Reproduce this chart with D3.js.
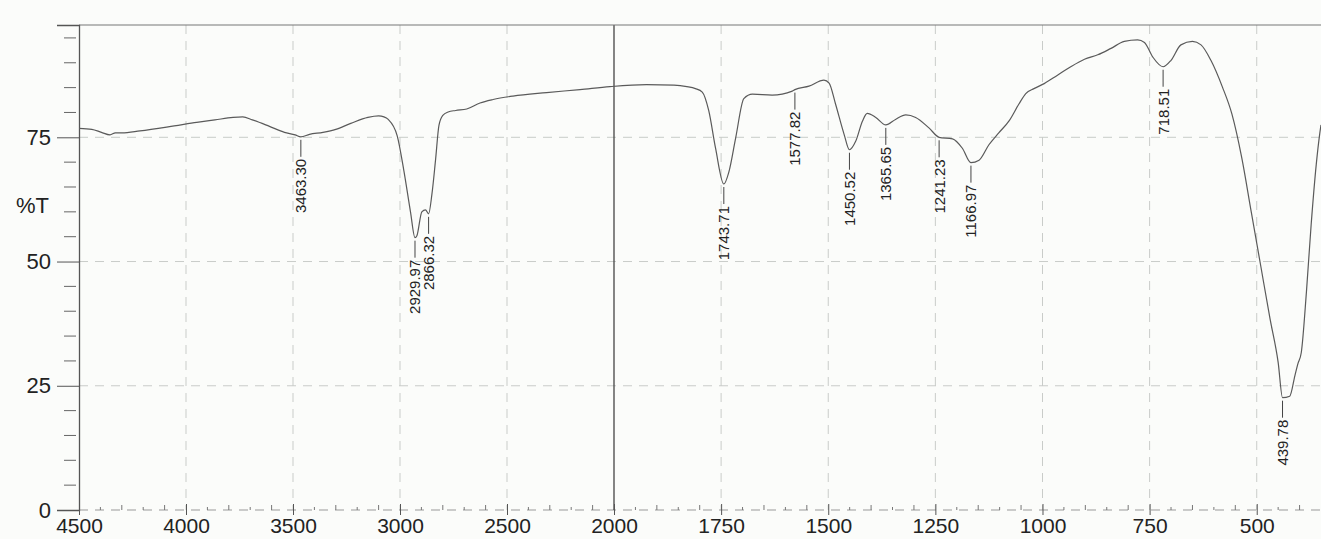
<!DOCTYPE html>
<html>
<head>
<meta charset="utf-8">
<script src="https://cdn.jsdelivr.net/npm/d3@7"></script>
<style>
  html, body { margin: 0; padding: 0; background: #fbfcfa; }
  svg { display: block; }
  text { font-family: "Liberation Sans", Arial, sans-serif; fill: #222; }
</style>
</head>
<body>
<svg id="chart" width="1321" height="539"></svg>
<script>
// spectrum (cm-1, %T)
const wavenumber = [
  4500, 4440, 4395, 4355, 4330, 4300, 4215, 4055, 3950, 3865, 3780, 3735, 3690, 3610,
  3540, 3490, 3463.3, 3423, 3360, 3300, 3230, 3150, 3100, 3075, 3055, 3013, 2982, 2951,
  2929.97, 2921, 2898, 2881, 2866.32, 2851, 2834, 2818, 2800, 2775, 2740, 2688, 2626,
  2565, 2472, 2315, 2159, 2019, 1924, 1860, 1830, 1810, 1794, 1779, 1763, 1743.71,
  1732, 1716, 1697, 1677, 1631, 1584, 1577.82, 1545, 1510, 1498, 1483, 1463, 1450.52,
  1436, 1420, 1409, 1389, 1365.65, 1343, 1319, 1296, 1265, 1241.23, 1210, 1187,
  1166.97, 1148, 1125, 1102, 1078, 1055, 1039, 1020, 996, 965, 934, 902, 871, 840, 809,
  778, 762, 743, 718.51, 700, 677, 650, 630, 607, 580, 558, 535, 513, 491, 469, 450,
  439.78, 423, 411, 404, 396, 384, 373, 361, 353, 350
];
const transmittance = [
  76.8, 76.6, 76.0, 75.5, 75.9, 75.9, 76.3, 77.3, 78.0, 78.5, 79.0, 79.1, 78.5, 77.2,
  76.0, 75.5, 75.1, 75.6, 76.0, 76.6, 77.8, 79.0, 79.3, 79.1, 78.6, 75.3, 68.3, 60.0,
  54.8, 55.2, 60.0, 60.4, 59.6, 63.5, 70.4, 77.4, 79.4, 80.1, 80.4, 80.7, 81.9,
  82.6, 83.3, 84.0, 84.6, 85.2, 85.6, 85.5, 85.2, 84.8, 84.1, 80.4, 72.8, 65.6,
  68.0, 74.9, 82.8, 83.7, 83.5, 84.3, 84.6, 85.3, 86.5, 85.9, 81.7, 75.6, 72.5,
  74.2, 78.3, 79.8, 79.0, 77.5, 78.6, 79.5, 79.0, 76.9, 75.0, 74.7, 72.8,
  69.9, 70.4, 73.5, 75.9, 78.3, 81.7, 83.8, 84.8, 85.8, 87.5, 89.2, 90.7, 91.6, 92.9, 94.3,
  94.6, 94.1, 91.2, 89.2, 90.5, 93.6, 94.3, 93.6, 90.5, 85.1, 79.7, 70.9, 60.1, 49.3, 38.5, 29.7,
  22.6, 22.9, 27.0, 29.4, 31.7, 43.9, 57.4, 69.6, 75.7, 77.5
];

const peakLabels = ["3463.30", "2929.97", "2866.32", "1743.71", "1577.82", "1450.52",
  "1365.65", "1241.23", "1166.97", "718.51", "439.78"];

const xTickValues = [4500, 4000, 3500, 3000, 2500, 2000, 1750, 1500, 1250, 1000, 750, 500];
const yTickValues = [0, 25, 50, 75];

const svg = d3.select("#chart");

// the instrument doubles the scale below 2000 cm-1
const x = d3.scaleLinear().domain([4500, 2000, 350]).range([79, 614, 1321]);
const y = d3.scaleLinear().domain([0, 97.6]).range([510, 25]);

// dashed grid
const grid = svg.append("g").attr("stroke", "#c9ccc9").attr("stroke-dasharray", "9,7");
grid.selectAll("line.v")
  .data(xTickValues.filter(d => d !== 2000 && d !== 4500))
  .join("line")
  .attr("x1", d => x(d)).attr("x2", d => x(d))
  .attr("y1", y(97.6)).attr("y2", y(0));
grid.selectAll("line.h")
  .data(yTickValues)
  .join("line")
  .attr("x1", x(4500)).attr("x2", x(350))
  .attr("y1", d => y(d)).attr("y2", d => y(d))
  .attr("stroke", d => d === 0 ? "#999" : null);

// solid line at 2000
svg.append("line")
  .attr("x1", x(2000)).attr("x2", x(2000))
  .attr("y1", y(97.6)).attr("y2", y(0))
  .attr("stroke", "#444").attr("stroke-width", 1.3);

// frame top + left axis
svg.append("line")
  .attr("x1", x(4500)).attr("x2", x(350))
  .attr("y1", y(97.6)).attr("y2", y(97.6))
  .attr("stroke", "#777").attr("stroke-width", 1.2);

const yAxis = svg.append("g")
  .attr("transform", `translate(${x(4500)},0)`)
  .call(d3.axisLeft(y).tickValues(yTickValues).tickSize(22).tickPadding(6).tickFormat(d3.format("d")));
yAxis.select(".domain").attr("stroke", "#555").attr("stroke-width", 1.3);
yAxis.selectAll(".tick line").attr("stroke", "#555");
yAxis.selectAll(".tick text").style("font-size", "22px").attr("fill", "#222");

// y minor ticks every 5
svg.append("g").selectAll("line")
  .data(d3.range(5, 97, 5).filter(d => d % 25 !== 0))
  .join("line")
  .attr("x1", x(4500) - 15).attr("x2", x(4500) - 3)
  .attr("y1", d => y(d)).attr("y2", d => y(d))
  .attr("stroke", "#666");

svg.append("text")
  .attr("x", 16).attr("y", 213)
  .style("font-size", "22px")
  .text("%T");

// x axis
const xAxis = svg.append("g")
  .attr("transform", `translate(0,${y(0)})`)
  .call(d3.axisBottom(x).tickValues(xTickValues).tickSize(5).tickPadding(3).tickFormat(d3.format("d")));
xAxis.select(".domain").remove();
xAxis.selectAll(".tick line").attr("stroke", "#555").attr("y1", -6);
xAxis.selectAll(".tick text").style("font-size", "21px").attr("fill", "#222");

// x minor ticks
const minorX = d3.range(4400, 2000, -100).concat(d3.range(1950, 350, -50))
  .filter(d => !xTickValues.includes(d));
svg.append("g").selectAll("line")
  .data(minorX)
  .join("line")
  .attr("x1", d => x(d)).attr("x2", d => x(d))
  .attr("y1", (d, i) => y(0) - (i % 2 ? 5 : 3)).attr("y2", y(0))
  .attr("stroke", "#777");

// spectrum
const points = wavenumber.map((w, i) => [w, transmittance[i]]);
svg.append("path")
  .datum(points)
  .attr("fill", "none")
  .attr("stroke", "#5a5a5a")
  .attr("stroke-width", 1.2)
  .attr("d", d3.line().x(d => x(d[0])).y(d => y(d[1])).curve(d3.curveMonotoneX));

// peak labels
function valueAt(w) {
  for (let i = 0; i < wavenumber.length - 1; i++) {
    const a = wavenumber[i], b = wavenumber[i + 1];
    if (w <= a && w >= b) {
      const t = (a - w) / (a - b);
      return transmittance[i] + t * (transmittance[i + 1] - transmittance[i]);
    }
  }
  return transmittance[transmittance.length - 1];
}

const peaks = svg.append("g").selectAll("g")
  .data(peakLabels)
  .join("g")
  .attr("transform", d => `translate(${x(+d)},${y(valueAt(+d)) + 3})`);
peaks.append("line")
  .attr("x1", 0).attr("x2", 0).attr("y1", 0).attr("y2", 17)
  .attr("stroke", "#444");
peaks.append("text")
  .attr("transform", "translate(0,19) rotate(-90)")
  .attr("text-anchor", "end")
  .attr("dy", "0.36em")
  .style("font-size", "15px")
  .text(d => d);
</script>
</body>
</html>
